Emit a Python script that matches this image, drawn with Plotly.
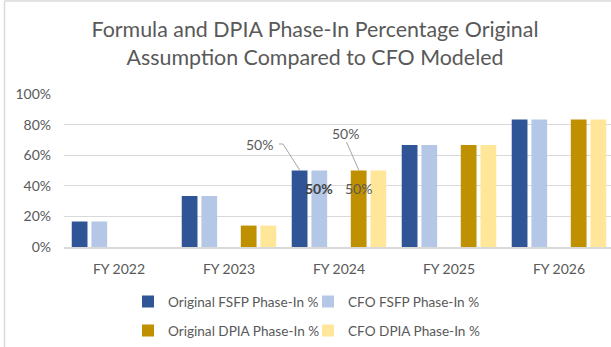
import plotly.graph_objects as go

years = ["FY 2022", "FY 2023", "FY 2024", "FY 2025", "FY 2026"]
orig_fsfp = [1/6, 1/3, 0.5, 2/3, 5/6]
cfo_fsfp = [1/6, 1/3, 0.5, 2/3, 5/6]
orig_dpia = [None, 0.14, 0.5, 2/3, 5/6]
cfo_dpia = [None, 0.14, 0.5, 2/3, 5/6]

FONT = "Lato"
GREY = "#595959"
GRID = "#d9d9d9"

fig = go.Figure()
fig.add_bar(x=years, y=orig_fsfp, name="Original FSFP Phase-In %",
            marker=dict(color="#2F5597", line_width=0), legend="legend")
fig.add_bar(x=years, y=cfo_fsfp, name="CFO FSFP Phase-In %",
            marker=dict(color="#B4C7E7", line_width=0), legend="legend")
# blank spacer series between the two pairs
fig.add_bar(x=years, y=[0, 0, 0, 0, 0], showlegend=False, hoverinfo="skip",
            marker=dict(color="rgba(0,0,0,0)", line_width=0))
fig.add_bar(x=years, y=orig_dpia, name="Original DPIA Phase-In %",
            marker=dict(color="#BF9000", line_width=0), legend="legend2")
fig.add_bar(x=years, y=cfo_dpia, name="CFO DPIA Phase-In %",
            marker=dict(color="#FFE699", line_width=0), legend="legend2")

i24 = years.index("FY 2024")

# data labels for FY 2024
fig.add_annotation(x=i24, y=orig_fsfp[i24], text=f"{orig_fsfp[i24]:.0%}", showarrow=False,
                   xshift=-79, yshift=26, font=dict(family=FONT, size=14, color=GREY))
fig.add_annotation(x=i24, y=orig_dpia[i24], text=f"{orig_dpia[i24]:.0%}", showarrow=False,
                   xshift=7, yshift=37, font=dict(family=FONT, size=14, color=GREY))
fig.add_annotation(x=i24, y=cfo_fsfp[i24], text=f"<b>{cfo_fsfp[i24]:.0%}</b>", showarrow=False,
                   xshift=-20, yshift=-18, font=dict(family=FONT, size=14, color="#404040"))
fig.add_annotation(x=i24, y=cfo_dpia[i24], text=f"{cfo_dpia[i24]:.0%}", showarrow=False,
                   xshift=20, yshift=-18, font=dict(family=FONT, size=14, color=GREY))

# leader lines
leader = dict(type="line", xref="x", yref="y", xsizemode="pixel", ysizemode="pixel",
              xanchor=i24, line=dict(color="#a6a6a6", width=1))
fig.add_shape(**leader, yanchor=orig_fsfp[i24], x0=-60, y0=26.5, x1=-56, y1=26.5)
fig.add_shape(**leader, yanchor=orig_fsfp[i24], x0=-56, y0=26.5, x1=-39, y1=0)
fig.add_shape(**leader, yanchor=orig_dpia[i24], x0=7.5, y0=28.5, x1=20, y1=0)

# chart frame
fig.add_shape(type="line", xref="paper", yref="paper",
              x0=(4.5 - 64) / 547, x1=(4.5 - 64) / 547, y0=(247 - 400) / 153, y1=(247 - 1) / 153,
              line=dict(color=GRID, width=1.5))
fig.add_shape(type="line", xref="paper", yref="paper",
              x0=(4.5 - 64) / 547, x1=1.2, y0=(247 - 1) / 153, y1=(247 - 1) / 153,
              line=dict(color=GRID, width=1.5))

legend_common = dict(orientation="h", xref="container", yref="container", xanchor="left",
                     yanchor="middle", font=dict(family=FONT, size=13.6, color=GREY),
                     entrywidth=135, entrywidthmode="pixels", itemwidth=30,
                     bgcolor="rgba(0,0,0,0)", traceorder="normal")

fig.update_layout(
    width=611, height=347,
    margin=dict(l=64, r=0, t=94, b=100),
    paper_bgcolor="white", plot_bgcolor="white",
    barmode="group", bargap=0.105, bargroupgap=0.2,
    title=dict(text="Formula and DPIA Phase-In Percentage Original<br>Assumption Compared to CFO Modeled",
               x=315 / 611, xanchor="center", y=1 - 37 / 347, yanchor="middle",
               font=dict(family=FONT, size=21.4, color=GREY)),
    font=dict(family=FONT, color=GREY),
    xaxis=dict(range=[-0.5, 4.473], showgrid=False, showline=True, linecolor=GRID, linewidth=1.5,
               ticks="", tickfont=dict(family=FONT, size=14, color=GREY), ticklabelstandoff=8),
    yaxis=dict(range=[0, 1], dtick=0.2, tickformat=".0%", showgrid=True, gridcolor=GRID,
               gridwidth=1, zeroline=False, showline=False, ticks="",
               tickfont=dict(family=FONT, size=14, color=GREY), ticklabelstandoff=12),
    legend=dict(**legend_common, x=128 / 611, y=1 - 301.7 / 347),
    legend2=dict(**legend_common, x=128 / 611, y=1 - 330.7 / 347),
    showlegend=True,
)

fig.write_html("out.html")
